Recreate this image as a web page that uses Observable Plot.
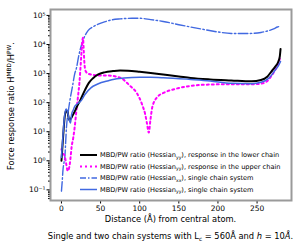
<!DOCTYPE html>
<html><head><meta charset="utf-8">
<script src="https://cdn.jsdelivr.net/npm/d3@7"></script>
<script src="https://cdn.jsdelivr.net/npm/@observablehq/plot@0.6"></script>
<style>body{margin:0;background:#fff}</style>
</head><body><div id="chart"></div>
<script>
// Black solid: Hessian_yy, response in the lower chain
const lowerX = [0,2,4,6,8,10,12,14,17,20,24,30,35,40,47,55,66,75,85,100,114,130,150,165,190,217,243,255,263,268,273,277,279,280];
const lowerY = [1.0,6,30,55,45,25,28,35,50,75,120,270,480,680,930,1100,1220,1280,1250,1150,1050,930,800,710,630,580,540,600,780,1150,1700,2500,3800,7000];
// Magenta dotted: Hessian_yy, response in the upper chain
const upperX = [0,2,4,6,8,10,11.5,13,15,17,19,21,23,25,26.5,27.5,28.5,29.5,31,34,40,50,60,75,88,96,103,107,109.5,111.6,113.8,116,122,131,144,163,190,217,243,255,263,268,273,277,280];
const upperY = [2.5,1.8,1.5,0.8,0.45,0.6,1.2,3,6,15,50,150,500,3000,12000,17000,6000,2000,1200,1000,900,850,850,720,370,220,87,40,18,9.3,27,68,150,220,290,370,420,430,430,450,550,800,1300,2200,4000];
// Blue dash-dot: Hessian_xx, single chain system
const singleXxX = [0,1,2,3,4.3,5.5,6.4,8.5,10.7,14,17,19.3,22,25.8,30,34,40,47,55,64,75,90,100,114,130,150,179,200,217,240,255,265,272,276,280];
const singleXxY = [0.09,0.2,0.5,0.8,1.3,5,14,45,115,350,1000,1600,4000,10000,20000,30000,40000,50000,60000,70000,76000,80000,80000,72000,62000,48000,34000,27000,24000,24000,26000,30000,35000,40000,42000];
// Blue solid: Hessian_yy, single chain system
const singleYyX = [0,2,4,6,8,10,11.5,13,15,17,20,25,30,38,45,51,60,66,80,100,114,130,165,190,217,243,255,263,268,273,277,280];
const singleYyY = [1.3,8,35,60,45,25,20,40,55,75,90,115,190,330,420,490,570,630,700,740,740,720,630,560,460,450,500,630,850,1300,1800,2600];

const xTicks = [0,50,100,150,200,250];
const yTicks = [0.1,1,10,100,1000,10000,100000];
const yTickLabels = ["10\u207B\u00B9","10\u2070","10\u00B9","10\u00B2","10\u00B3","10\u2074","10\u2075"];

function rows(xs, ys, s){ return xs.map((x,i)=>({x, y: ys[i], s})); }
const dLower = rows(lowerX, lowerY, "lower");
const dUpper = rows(upperX, upperY, "upper");
const dXx = rows(singleXxX, singleXxY, "xx");
const dYy = rows(singleYyX, singleYyY, "yy");

const minor = [];
for (let e = -2; e <= 5; e++) for (let m = 2; m <= 9; m++) { const v = m * Math.pow(10, e); if (v > 0.043 && v < 1.6e5) minor.push(v); }

const blue = "#4169e1";
const svg = Plot.plot({
  width: 300, height: 252,
  marginLeft: 50, marginRight: 9, marginTop: 9, marginBottom: 52,
  x: {domain: [-14, 294]},
  y: {type: "log", domain: [0.043, 1.6e5]},
  style: {fontFamily: "DejaVu Sans", fontSize: "7.5px", background: "white", color: "black"},
  marks: [
    Plot.line(dXx, {x: "x", y: "y", stroke: blue, strokeWidth: 1.4, strokeDasharray: "9.6,2.4,1.5,2.4", curve: "monotone-x"}),
    Plot.line(dUpper, {x: "x", y: "y", stroke: "#ff00ff", strokeWidth: 2, strokeDasharray: "2,3", curve: "monotone-x"}),
    Plot.line(dLower, {x: "x", y: "y", stroke: "black", strokeWidth: 2, curve: "monotone-x"}),
    Plot.line(dYy, {x: "x", y: "y", stroke: blue, strokeWidth: 1.5, curve: "monotone-x"}),
    Plot.axisX({ticks: xTicks, tickSize: 3.5, tickPadding: 2, label: null, fontSize: 7.5}),
    Plot.axisY({ticks: yTicks, tickFormat: d => yTickLabels[Math.round(Math.log10(d)) + 1], tickSize: 3.5, tickPadding: 1.5, label: null, fontSize: 7.5}),
    Plot.axisY({ticks: minor, tickFormat: () => "", tickSize: 2, label: null}),
    Plot.frame({stroke: "#9a9a9a", strokeWidth: 2})
  ]
});
document.getElementById("chart").appendChild(svg);

const s = d3.select(svg);
const cx = 170.5;
// x label
s.append("text").attr("x", cx).attr("y", 222).attr("text-anchor", "middle")
  .attr("font-size", 8.3).attr("font-family", "DejaVu Sans").text("Distance (\u00C5) from central atom.");
const cap = s.append("text").attr("x", cx).attr("y", 239).attr("text-anchor", "middle")
  .attr("font-size", 8.3).attr("font-family", "DejaVu Sans");
cap.append("tspan").text("Single and two chain systems with L");
cap.append("tspan").attr("font-size", 5.8).attr("dy", 1.8).text("c");
cap.append("tspan").attr("dy", -1.8).text(" = 560\u00C5 and ");
cap.append("tspan").attr("font-style", "italic").text("h");
cap.append("tspan").text(" = 10");
cap.append("tspan").attr("font-style", "italic").text("\u00C5");
cap.append("tspan").text(".");
// y label
const yl = s.append("text").attr("transform", "translate(14,106) rotate(-90)").attr("text-anchor", "middle")
  .attr("font-size", 8.3).attr("font-family", "DejaVu Sans");
yl.append("tspan").text("Force response ratio H");
yl.append("tspan").attr("font-size", 5.8).attr("dy", -3.2).text("MBD");
yl.append("tspan").attr("dy", 3.2).text("/H");
yl.append("tspan").attr("font-size", 5.8).attr("dy", -3.2).text("PW");
yl.append("tspan").attr("dy", 3.2).text(".");

// legend
const legend = [
  {sub: "yy", rest: "), response in the lower chain", stroke: "black", w: 2, dash: null},
  {sub: "yy", rest: "), response in the upper chain", stroke: "#ff00ff", w: 2, dash: "2,3"},
  {sub: "xx", rest: "), single chain system", stroke: blue, w: 1.4, dash: "6,2,1.5,2"},
  {sub: "yy", rest: "), single chain system", stroke: blue, w: 1.5, dash: null}
];
const ly = [155, 166.5, 178, 189.5];
legend.forEach((d, i) => {
  const ln = s.append("line").attr("x1", 80).attr("x2", 97).attr("y1", ly[i]).attr("y2", ly[i])
    .attr("stroke", d.stroke).attr("stroke-width", d.w);
  if (d.dash) ln.attr("stroke-dasharray", d.dash);
  const t = s.append("text").attr("x", 100).attr("y", ly[i] + 2.3).attr("text-anchor", "start")
    .attr("font-size", 6.6).attr("font-family", "DejaVu Sans");
  t.append("tspan").text("MBD/PW ratio (Hessian");
  t.append("tspan").attr("font-size", 4.6).attr("dy", 1.5).text(d.sub);
  t.append("tspan").attr("dy", -1.5).text(d.rest);
});
</script></body></html>
